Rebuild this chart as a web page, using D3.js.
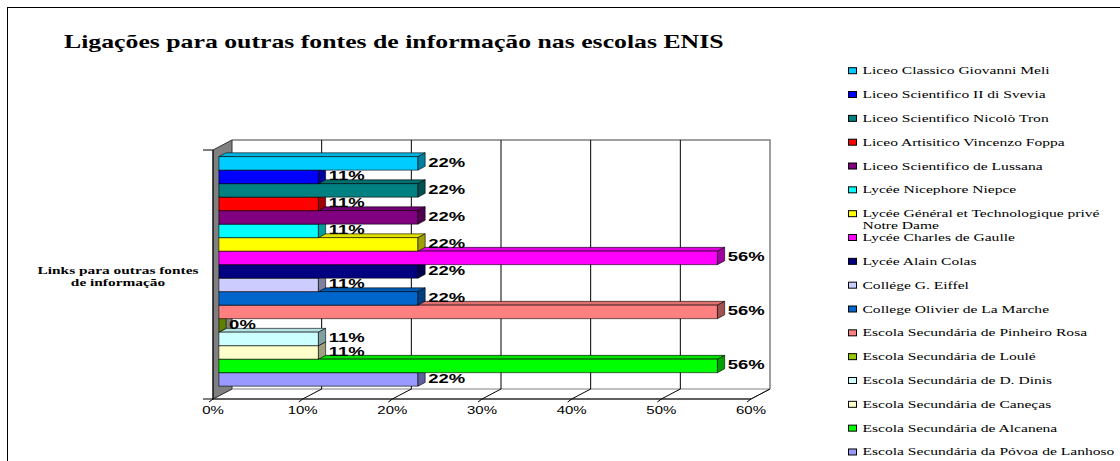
<!DOCTYPE html>
<html>
<head>
<meta charset="utf-8">
<script src="https://cdn.jsdelivr.net/npm/d3@7"></script>
<style>
  html, body { margin: 0; padding: 0; background: #fff; }
  svg { display: block; }
</style>
</head>
<body>
<svg id="chart" width="1120" height="461"></svg>
<script>
// ---------------- data ----------------
const chartTitle = "Ligações para outras fontes de informação nas escolas ENIS";
const categoryLabel = ["Links para outras fontes", "de informação"];
const schools = [
  "Liceo Classico Giovanni Meli",
  "Liceo Scientifico II di Svevia",
  "Liceo Scientifico Nicolò Tron",
  "Liceo Artisitico Vincenzo Foppa",
  "Liceo Scientifico de Lussana",
  "Lycée Nicephore Niepce",
  "Lycée Général et Technologique privé Notre Dame",
  "Lycée Charles de Gaulle",
  "Lycée Alain Colas",
  "Collége G. Eiffel",
  "College Olivier de La Marche",
  "Escola Secundária de Pinheiro Rosa",
  "Escola Secundária de Loulé",
  "Escola Secundária de D. Dinis",
  "Escola Secundária de Caneças",
  "Escola Secundária de Alcanena",
  "Escola Secundária da Póvoa de Lanhoso"
];
const legendLines = [
  ["Liceo Classico Giovanni Meli"],
  ["Liceo Scientifico II di Svevia"],
  ["Liceo Scientifico Nicolò Tron"],
  ["Liceo Artisitico Vincenzo Foppa"],
  ["Liceo Scientifico de Lussana"],
  ["Lycée Nicephore Niepce"],
  ["Lycée Général et Technologique privé", "Notre Dame"],
  ["Lycée Charles de Gaulle"],
  ["Lycée Alain Colas"],
  ["Collége G. Eiffel"],
  ["College Olivier de La Marche"],
  ["Escola Secundária de Pinheiro Rosa"],
  ["Escola Secundária de Loulé"],
  ["Escola Secundária de D. Dinis"],
  ["Escola Secundária de Caneças"],
  ["Escola Secundária de Alcanena"],
  ["Escola Secundária da Póvoa de Lanhoso"]
];
const values = [22.2, 11.1, 22.2, 11.1, 22.2, 11.1, 22.2, 55.6, 22.2, 11.1, 22.2, 55.6, 0, 11.1, 11.1, 55.6, 22.2];
const colors = ["#00CCFF", "#0000FF", "#008080", "#FF0000", "#800080", "#00FFFF", "#FFFF00", "#FF00FF",
                "#000080", "#CCCCFF", "#0066CC", "#FF8080", "#99CC00", "#CCFFFF", "#FFFFCC", "#00FF00", "#9999FF"];
const xTicks = [0, 10, 20, 30, 40, 50, 60];

// ---------------- layout ----------------
const svg = d3.select("#chart");
const DX = 19, DY = -10;          // 3D depth vector (front -> back)
const D0 = 0.31, D1 = 0.69;       // bar depth span
const x = d3.scaleLinear().domain([0, 60]).range([213, 751]);
const yTop = 150, yBot = 399;
const y = d3.scaleBand().domain(schools).range([yTop, yBot]).paddingInner(0).paddingOuter(0.72);
const P = (v, d) => x(v) + DX * d;
const pct = d3.format(".0%");

function stretchTo(sel, sx) {
  sel.each(function () {
    const t = d3.select(this);
    const tx = +t.attr("x"), ty = +t.attr("y");
    t.attr("x", 0).attr("y", 0).attr("transform", `translate(${tx},${ty}) scale(${sx},1)`);
  });
}
function widthOf(node) { return node.getComputedTextLength(); }

// outer border
svg.append("rect").attr("x", 7.5).attr("y", 7.5).attr("width", 1130).attr("height", 470)
  .attr("fill", "#fff").attr("stroke", "#000").attr("stroke-width", 1);

// title
const titleT = svg.append("text").attr("x", 64).attr("y", 48)
  .attr("font-family", "Liberation Serif, Times New Roman, serif").attr("font-weight", "bold")
  .attr("font-size", 19).attr("fill", "#000").text(chartTitle);
stretchTo(titleT, 660 / widthOf(titleT.node()));

// walls
const g = svg.append("g");
// back wall
g.append("rect").attr("x", P(0, 1)).attr("y", yTop + DY).attr("width", P(60, 1) - P(0, 1)).attr("height", yBot - yTop)
  .attr("fill", "#fff").attr("stroke", "none");
g.append("path").attr("d", `M${P(0,1)},${yTop + DY}H${P(60,1)}V${yBot + DY}`)
  .attr("fill", "none").attr("stroke", "#808080").attr("stroke-width", 1.5);
// floor
g.append("path").attr("d", `M${P(0,0)},${yBot}L${P(60,0)},${yBot}L${P(60,1)},${yBot + DY}L${P(0,1)},${yBot + DY}Z`)
  .attr("fill", "#fff").attr("stroke", "#808080").attr("stroke-width", 1);
// gridlines back wall
g.selectAll("line.grid").data(xTicks.filter(v => v > 0 && v < 60)).enter().append("line")
  .attr("x1", v => P(v, 1)).attr("x2", v => P(v, 1)).attr("y1", yTop + DY).attr("y2", yBot + DY)
  .attr("stroke", "#000").attr("stroke-width", 1);
// floor gridlines
g.selectAll("line.fgrid").data(xTicks.filter(v => v > 0)).enter().append("line")
  .attr("x1", v => P(v, 0)).attr("x2", v => P(v, 1)).attr("y1", yBot).attr("y2", yBot + DY)
  .attr("stroke", "#000").attr("stroke-width", 1);
// left wall
g.append("path").attr("d", `M${P(0,0)},${yTop}L${P(0,1)},${yTop + DY}L${P(0,1)},${yBot + DY}L${P(0,0)},${yBot}Z`)
  .attr("fill", "#808080").attr("stroke", "#333").attr("stroke-width", 1);

// bars (draw bottom to top so upper bars cover lower top faces)
const bw = y.bandwidth();
const order = schools.map((s, i) => i).reverse();
const bars = svg.append("g");
order.forEach(i => {
  const v = values[i], c = d3.color(colors[i]);
  const y0 = y(schools[i]) + DY * D0, y1 = y0 + bw;
  const dd = DY * (D1 - D0);
  const xa = P(0, D0), xb = P(v, D0), xc = P(v, D1), xd = P(0, D1);
  const gb = bars.append("g").attr("stroke", "#000").attr("stroke-width", 0.6).attr("stroke-linejoin", "round");
  // top face
  gb.append("path").attr("d", `M${xa},${y0}L${xb},${y0}L${xc},${y0 + dd}L${xd},${y0 + dd}Z`)
    .attr("fill", c.darker(0.35).formatHex());
  // front face
  gb.append("rect").attr("x", xa).attr("y", y0).attr("width", xb - xa).attr("height", bw).attr("fill", c.formatHex());
  // side face
  gb.append("path").attr("d", `M${xb},${y0}L${xc},${y0 + dd}L${xc},${y1 + dd}L${xb},${y1}Z`)
    .attr("fill", c.darker(1.3).formatHex());
});

// data labels
const lab = svg.append("g").selectAll("text").data(schools).enter().append("text")
  .attr("x", (s, i) => P(values[i], D1) + 3)
  .attr("y", (s, i) => y(s) + DY * D0 + bw / 2 + 3.5)
  .attr("font-family", "Liberation Sans, Arial, sans-serif").attr("font-weight", "bold")
  .attr("font-size", 12.5).attr("fill", "#000")
  .text((s, i) => pct(values[i] / 100));
const lsx = 37 / widthOf(lab.filter((s, i) => i === 7).node());
stretchTo(lab, lsx);

// axes
const ax = svg.append("g");
ax.append("line").attr("x1", 203).attr("x2", P(60, 0)).attr("y1", yBot).attr("y2", yBot).attr("stroke", "#000");
ax.append("line").attr("x1", x(0)).attr("x2", x(0)).attr("y1", yTop).attr("y2", yBot).attr("stroke", "#000");
ax.append("line").attr("x1", 203).attr("x2", x(0)).attr("y1", yTop).attr("y2", yTop).attr("stroke", "#000");
ax.selectAll("line.tk").data(xTicks).enter().append("line")
  .attr("x1", v => x(v)).attr("x2", v => x(v) - 4).attr("y1", yBot).attr("y2", yBot + 3).attr("stroke", "#000");
const tl = ax.selectAll("text").data(xTicks).enter().append("text")
  .attr("x", v => x(v)).attr("y", 414)
  .attr("text-anchor", "middle")
  .attr("font-family", "Liberation Sans, Arial, sans-serif").attr("font-size", 10.5).attr("fill", "#000")
  .text(v => pct(v / 100));
const tsx = 30 / widthOf(tl.filter(v => v === 10).node());
stretchTo(tl, tsx);

// category label
const cl = svg.append("g").selectAll("text").data(categoryLabel).enter().append("text")
  .attr("x", 118).attr("y", (d, i) => 274 + i * 12)
  .attr("text-anchor", "middle")
  .attr("font-family", "Liberation Serif, Times New Roman, serif").attr("font-weight", "bold")
  .attr("font-size", 10.5).attr("fill", "#000").text(d => d);
const csx = 161 / widthOf(cl.filter((d, i) => i === 0).node());
stretchTo(cl, csx);

// legend
const leg = svg.append("g");
const rowY = i => 70.7 + i * 23.83;
leg.selectAll("rect").data(schools).enter().append("rect")
  .attr("x", 848.5).attr("y", (s, i) => rowY(i) - 3).attr("width", 8).attr("height", 6)
  .attr("fill", (s, i) => colors[i]).attr("stroke", "#000").attr("stroke-width", 1);
const lt = [];
legendLines.forEach((lines, i) => {
  lines.forEach((ln, j) => {
    lt.push({ t: ln, y: rowY(i) + 3.5 + j * 12 });
  });
});
const ltx = leg.selectAll("text").data(lt).enter().append("text")
  .attr("x", 862.5).attr("y", d => d.y)
  .attr("font-family", "Liberation Serif, Times New Roman, serif").attr("font-size", 10.5).attr("fill", "#000")
  .text(d => d.t);
const lgsx = 252 / widthOf(ltx.filter(d => d.t === "Escola Secundária da Póvoa de Lanhoso").node());
stretchTo(ltx, lgsx);
</script>
</body>
</html>
